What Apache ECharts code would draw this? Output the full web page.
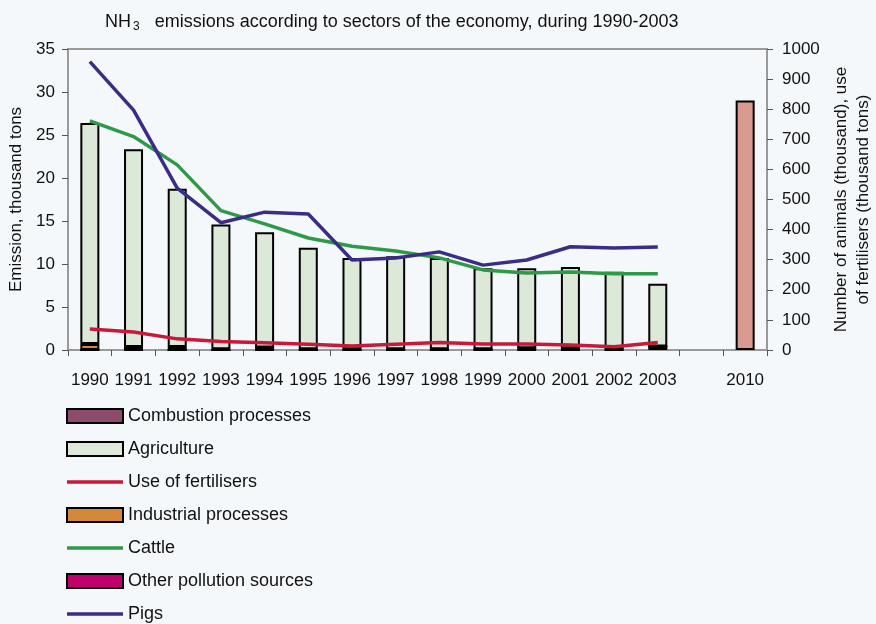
<!DOCTYPE html>
<html>
<head>
<meta charset="utf-8">
<script src="https://cdn.jsdelivr.net/npm/echarts@6/dist/echarts.min.js"></script>
<style>
html, body { margin: 0; padding: 0; background: #F5F8FA; }
#main { width: 876px; height: 624px; }
</style>
</head>
<body>
<div id="main"></div>
<script>
// categories (one blank slot before 2010)
var years = ['1990','1991','1992','1993','1994','1995','1996','1997','1998','1999','2000','2001','2002','2003','','2010'];

// emissions, thousand tons (left axis)
var combustion  = [0, 0, 0, 0, 0, 0, 0, 0, 0, 0, 0, 0, 0, 0.4];
var otherSources = [0, 0, 0, 0, 0.3, 0, 0, 0, 0, 0.1, 0.2, 0.2, 0.1, 0];
var industrial  = [0.7, 0.35, 0.35, 0.1, 0, 0.1, 0.1, 0.1, 0.1, 0, 0, 0, 0, 0];
var agriculture = [25.7, 23.0, 18.4, 14.5, 13.4, 11.8, 10.6, 10.8, 10.6, 9.4, 9.3, 9.45, 9.0, 7.3];
var target2010 = 29;

// thousand heads / thousand tons (right axis)
var fertilisers = [70, 60, 37, 28, 24, 19, 13, 19, 25, 20, 20, 17, 11, 25];
var cattle      = [761, 709, 615, 463, 419, 372, 345, 329, 306, 266, 256, 259, 253, 253];
var pigs        = [958, 797, 538, 423, 458, 452, 299, 306, 326, 282, 299, 343, 339, 342];

var leftTicks = { min: 0, max: 35, interval: 5 };
var rightTicks = { min: 0, max: 1000, interval: 100 };

var FONT = 'Liberation Sans';
var myChart = echarts.init(document.getElementById('main'));

function pad(arr) {
    var out = arr.slice();
    while (out.length < years.length) out.push(null);
    return out;
}

var barBorder = { borderColor: '#000', borderWidth: 2 };
// flat line used as legend icon for the line series
var lineIcon = 'path://M0,0 L58,0 L58,3.5 L0,3.5 Z';

var targetData = years.map(function (y) { return y === '2010' ? target2010 : null; });

option = {
    backgroundColor: '#F5F8FA',
    textStyle: { fontFamily: FONT, color: '#111' },
    title: {
        text: 'NH{sub|3}   emissions according to sectors of the economy, during 1990-2003',
        left: 100,
        top: 7,
        textStyle: {
            fontFamily: FONT,
            fontWeight: 'normal',
            fontSize: 18,
            color: '#111',
            rich: {
                sub: { fontSize: 12, padding: [9, 0, 0, 2], fontFamily: FONT, color: '#111' }
            }
        }
    },
    legend: {
        orient: 'vertical',
        left: 66,
        top: 407,
        height: 240,
        padding: 0,
        itemWidth: 56,
        itemHeight: 14,
        itemGap: 15,
        textStyle: { fontSize: 18, lineHeight: 18, color: '#111', fontFamily: FONT },
        data: [
            { name: 'Combustion processes', icon: 'rect' },
            { name: 'Agriculture', icon: 'rect' },
            { name: 'Use of fertilisers', icon: lineIcon },
            { name: 'Industrial processes', icon: 'rect' },
            { name: 'Cattle', icon: lineIcon },
            { name: 'Other pollution sources', icon: 'rect' },
            { name: 'Pigs', icon: lineIcon }
        ]
    },
    grid: {
        left: 68,
        right: 109,
        top: 49,
        bottom: 274,
        outerBoundsMode: 'none',
        show: true,
        borderColor: '#999',
        borderWidth: 2,
        backgroundColor: 'transparent'
    },
    xAxis: [{
        type: 'category',
        data: years,
        axisLine: { lineStyle: { color: '#999', width: 2 } },
        axisTick: { show: true, length: 6, lineStyle: { color: '#555' } },
        axisLabel: { margin: 22, fontSize: 17, color: '#111', interval: 0 }
    }],
    yAxis: [{
        type: 'value',
        min: leftTicks.min,
        max: leftTicks.max,
        interval: leftTicks.interval,
        name: 'Emission, thousand tons',
        nameLocation: 'middle',
        nameRotate: 90,
        nameGap: 42,
        nameTextStyle: { fontSize: 17, color: '#111' },
        axisLine: { show: true, lineStyle: { color: '#999', width: 2 } },
        axisTick: { show: true, length: 6, lineStyle: { color: '#555' } },
        axisLabel: { margin: 13, fontSize: 17, color: '#111' },
        splitLine: { show: false }
    }, {
        type: 'value',
        position: 'right',
        min: rightTicks.min,
        max: rightTicks.max,
        interval: rightTicks.interval,
        name: 'Number of animals (thousand), use\nof fertilisers (thousand tons)',
        nameLocation: 'middle',
        nameRotate: 90,
        nameGap: 63,
        nameTextStyle: { fontSize: 17, color: '#111', lineHeight: 22, align: 'center' },
        axisLine: { show: true, lineStyle: { color: '#999', width: 2 } },
        axisTick: { show: true, length: 6, lineStyle: { color: '#555' } },
        axisLabel: { margin: 15, fontSize: 17, color: '#111', formatter: function (v) { return String(v); } },
        splitLine: { show: false }
    }],
    series: [{
        name: 'Combustion processes',
        type: 'bar',
        stack: 'em',
        barWidth: 19,
        itemStyle: Object.assign({ color: '#8E4B6D' }, barBorder),
        data: pad(combustion)
    }, {
        name: 'Other pollution sources',
        type: 'bar',
        stack: 'em',
        itemStyle: Object.assign({ color: '#C0006C' }, barBorder),
        data: pad(otherSources)
    }, {
        name: 'Industrial processes',
        type: 'bar',
        stack: 'em',
        itemStyle: Object.assign({ color: '#D4883A' }, barBorder),
        data: pad(industrial)
    }, {
        name: 'Agriculture',
        type: 'bar',
        stack: 'em',
        itemStyle: Object.assign({ color: '#DCE8D8' }, barBorder),
        data: pad(agriculture)
    }, {
        name: '2010',
        type: 'bar',
        stack: 'em',
        itemStyle: Object.assign({ color: '#D99A92' }, barBorder),
        data: targetData
    }, {
        name: 'Use of fertilisers',
        type: 'line',
        yAxisIndex: 1,
        symbol: 'none',
        lineStyle: { width: 3.5, color: '#C8193A' },
        itemStyle: { color: '#C8193A' },
        data: pad(fertilisers)
    }, {
        name: 'Cattle',
        type: 'line',
        yAxisIndex: 1,
        symbol: 'none',
        lineStyle: { width: 3.5, color: '#2E9A48' },
        itemStyle: { color: '#2E9A48' },
        data: pad(cattle)
    }, {
        name: 'Pigs',
        type: 'line',
        yAxisIndex: 1,
        symbol: 'none',
        lineStyle: { width: 3.5, color: '#3B2C85' },
        itemStyle: { color: '#3B2C85' },
        data: pad(pigs)
    }]
};

myChart.setOption(option);
</script>
</body>
</html>
